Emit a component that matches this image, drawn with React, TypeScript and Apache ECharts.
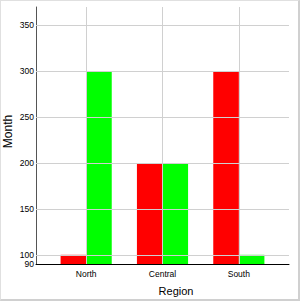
import React, { useEffect, useRef } from "react";
import * as echarts from "echarts";

const categories = ["North", "Central", "South"];
const seriesRed = [100, 200, 300];
const seriesGreen = [300, 200, 100];
const gridValues = [100, 150, 200, 250, 300, 350];
const labelValues = [90, 100, 150, 200, 250, 300, 350];
const yMin = 90;
const yMax = 370;

export default function App() {
  const ref = useRef<HTMLDivElement>(null);
  useEffect(() => {
    document.body.style.margin = "0";
    const chart = echarts.init(ref.current!, null, { renderer: "svg" });
    const font = "'Liberation Sans', Arial, sans-serif";
    chart.setOption({
      animation: false,
      grid: [
        { left: 47, top: 6, right: 21, bottom: 35, containLabel: false, outerBoundsMode: "none" },
        { left: 35, top: 6, right: 9, bottom: 35, containLabel: false, outerBoundsMode: "none" },
      ],
      xAxis: [
        {
          type: "category",
          gridIndex: 0,
          data: categories,
          axisLine: { show: false },
          axisTick: { show: false },
          splitLine: { show: false },
          axisLabel: { fontSize: 8.5, color: "#000", fontFamily: font, margin: 5 },
        },
        {
          type: "value",
          gridIndex: 1,
          min: 0,
          max: 1,
          name: "Region",
          nameLocation: "middle",
          nameGap: 21,
          nameMoveOverlap: false,
          nameTextStyle: { fontSize: 11, color: "#000", fontFamily: font, padding: [0, 0, 0, 27] },
          axisLine: { show: true, lineStyle: { color: "#000", width: 1 } },
          axisTick: { show: false },
          splitLine: { show: false },
          axisLabel: { show: false },
        },
      ],
      yAxis: [
        {
          type: "value",
          gridIndex: 0,
          min: yMin,
          max: yMax,
          show: false,
        },
        {
          type: "value",
          gridIndex: 1,
          min: yMin,
          max: yMax,
          interval: 10,
          name: "Month",
          nameLocation: "middle",
          nameGap: 22,
          nameMoveOverlap: false,
          nameTextStyle: { fontSize: 12, color: "#000", fontFamily: font, padding: [0, 0, 0, 8] },
          axisLine: { show: true, lineStyle: { color: "#555", width: 1 } },
          axisTick: { show: false },
          splitLine: { show: false },
          axisLabel: {
            fontSize: 8.5,
            color: "#000",
            fontFamily: font,
            margin: 2,
            formatter: (v: number) => (labelValues.includes(v) ? String(v) : ""),
          },
        },
      ],
      series: [
        {
          type: "line",
          xAxisIndex: 1,
          yAxisIndex: 1,
          data: [],
          z: 1,
          silent: true,
          markLine: {
            silent: true,
            symbol: "none",
            label: { show: false },
            lineStyle: { color: "#d0d0d0", type: "solid", width: 1 },
            emphasis: { disabled: true },
            data: gridValues.map((v) => ({ yAxis: v })),
          },
        },
        {
          type: "line",
          xAxisIndex: 0,
          yAxisIndex: 0,
          data: [],
          z: 1,
          silent: true,
          markLine: {
            silent: true,
            symbol: "none",
            label: { show: false },
            lineStyle: { color: "#d0d0d0", type: "solid", width: 1 },
            emphasis: { disabled: true },
            data: categories.map((c) => ({ xAxis: c })),
          },
        },
        {
          type: "bar",
          name: "Red",
          xAxisIndex: 0,
          yAxisIndex: 0,
          data: seriesRed,
          z: 2,
          barGap: "0%",
          barCategoryGap: "33%",
          itemStyle: { color: "#ff0000" },
          emphasis: { disabled: true },
        },
        {
          type: "bar",
          name: "Green",
          xAxisIndex: 0,
          yAxisIndex: 0,
          data: seriesGreen,
          z: 2,
          barGap: "0%",
          barCategoryGap: "33%",
          itemStyle: { color: "#00ff00" },
          emphasis: { disabled: true },
        },
      ],
    });
    return () => chart.dispose();
  }, []);
  return (
    <div
      style={{
        width: 300,
        height: 301,
        boxSizing: "border-box",
        borderTop: "1px solid #e0e0e0",
        borderLeft: "1px solid #e0e0e0",
        borderRight: "2px solid #d0d0d0",
        borderBottom: "2px solid #d0d0d0",
        background: "#fff",
      }}
    >
      <div ref={ref} style={{ width: 297, height: 298 }} />
    </div>
  );
}
